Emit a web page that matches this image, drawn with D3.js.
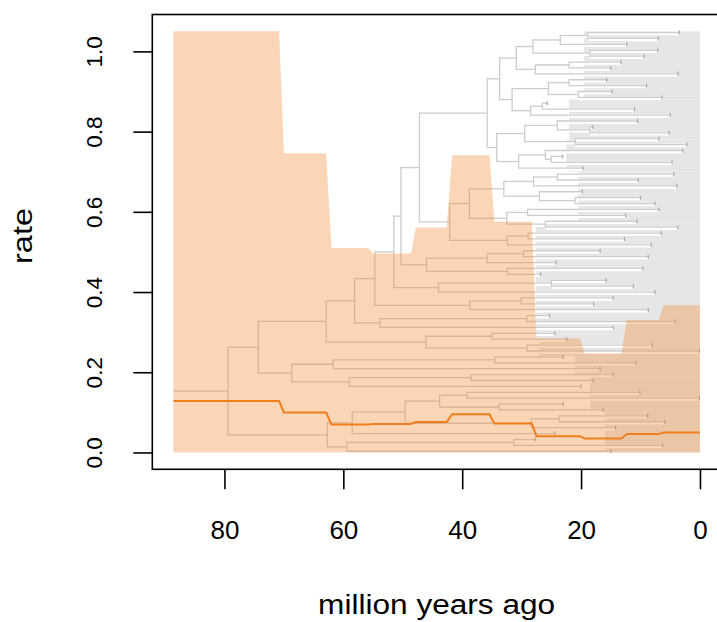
<!DOCTYPE html>
<html>
<head>
<meta charset="utf-8">
<script src="https://cdn.jsdelivr.net/npm/d3@7"></script>
<style>
body { margin: 0; background: #fff; }
text { font-family: "Liberation Sans", Arial, sans-serif; fill: #000; }
</style>
</head>
<body>
<script>
// Rate through time (million years ago, oldest first)
var intervalOld   = [88.6, 70.0, 62.0, 55.0, 47.8, 41.7, 34.6, 27.5, 19.4, 12.3, 6.1];
var intervalYoung = [70.8, 62.9, 55.8, 48.6, 42.6, 35.4, 28.3, 20.2, 13.2, 6.9, 0.0];
var rateUpper  = [1.05, 0.746, 0.51, 0.496, 0.561, 0.741, 0.575, 0.285, 0.247,
                  0.33, 0.367];
var rateLower  = [0, 0, 0, 0, 0, 0, 0, 0, 0, 0, 0];
var rateMedian = [0.128, 0.0997, 0.070, 0.071, 0.076, 0.095, 0.072, 0.0407,
                  0.035, 0.046, 0.05];

// grey band of lineages running to the present
var greyTop    = [1.05, 0.88, 0.78, 0.70, 0.57, 0.285, 0.24, 0.19, 0.10];
var greyBottom = [0.88, 0.78, 0.70, 0.57, 0.285, 0.24, 0.19, 0.10, 0.0];
var greyStart  = [19.5, 22.0, 22.5, 20.5, 27.6, 27.0, 21.0, 18.5, 16.0];

// tree: internal node = [age, upper child, lower child], tip = tip age
var P1a = [28.1, [23.5, [18.9, 3.5, 7.0], 12.3], [18.5, 7.1, 9.4]];
var P1b = [27.7, [22.0, 13.3, 15.0], 3.7];
var P2  = [31.6, [25.5, [22.0, 15.7, 9.0], [20.5, 14.8, 6.4]],
                 [28.5, [26.5, 25.7, 11.0], 5.0]];
var W   = [34.2, [29.5, [24.0, 10.5, [18.5, 18.0, 5.2]], [21.0, 6.9, 2.2]],
                 [30.5, [26.0, 2.9, [25.0, 23.1, 4.7]], 19.7]];
var Z1  = [38.8, [33.0, [28.0, [24.0, 4.4, 10.4], 3.9],
                        [27.0, 19.8, [21.0, 10.0, 7.6]]],
                 [32.5, [29.0, 6.9, 12.5], [26.0, 10.6, 3.7]]];
var Z2  = [32.4, [28.9, 6.5, 12.7], 8.2];
var Y   = [46.0, [35.8, [29.7, 16.8, 8.7], 24.2], [32.4, 9.6, 26.8]];
var X   = [44.0, [25.0, 15.8, 11.2], 7.6];
var C1  = [38.7, [30.1, 14.6, 17.9], 8.7];
var A1aL = [53.8, [29.1, 25.3, 4.2], 14.6];
var A1b = [46.1, [35.0, 24.4, 22.4], [29.1, 8.0, 0.1]];
var A2  = [68.7, [61.7, [34.5, 23.0, 10.8], 16.8],
                 [59.0, [38.5, 14.6, 18.0], 20.0]];
var B1  = [58.5, [49.6, [43.8, [39.2, 10.1, 0.1], [33.8, 23.0, 16.3]],
                        [28.4, [23.7, 8.8, 5.9], 14.2]], 24.4];
var B2  = [59.4, [31.3, 27.7, 6.3], 15.0];
var tree = [79.4,
    [74.3,
        [62.9,
            [58.1,
                [54.7,
                    [51.5,
                        [50.3, [47.2, [35.8, [33.7, [30.9, P1a, P1b], P2], W],
                                      [42.1, Z1, Z2]], Y],
                        X],
                    C1],
                A1aL],
            A1b],
        A2],
    [62.7, B1, B2]];
var rootAge = 88.6;
var tipTop = 1.047, tipBottom = 0.003;

var xTicks = [80, 60, 40, 20, 0];
var yTicks = [0, 0.2, 0.4, 0.6, 0.8, 1.0];

var W_ = 717, H_ = 622;
var svg = d3.select("body").append("svg")
    .attr("width", W_)
    .attr("height", H_);

var x = d3.scaleLinear().domain([92.14, -3.54]).range([152.3, 721]);
var y = d3.scaleLinear().domain([-0.042, 1.092]).range([469.3, 14.5]);

var plot = svg.append("g");

//grey band
plot.selectAll("rect.grey")
    .data(greyStart)
    .enter().append("rect")
    .attr("class", "grey")
    .attr("x", function(d) { return x(d); })
    .attr("y", function(d, i) { return y(greyTop[i]); })
    .attr("width", function(d) { return x(0) - x(d); })
    .attr("height", function(d, i) { return y(greyBottom[i]) - y(greyTop[i]); })
    .attr("fill", "#e6e6e6");

//Lay out the tree: tips evenly spaced, nodes at mean of children
function countTips(n) {
    return Array.isArray(n) ? countTips(n[1]) + countTips(n[2]) : 1;
}
var nTips = countTips(tree);
var tipStep = (tipTop - tipBottom) / (nTips - 1);
var tipIndex = 0;
var tips = [], hEdges = [], vEdges = [];
function layout(n, parentAge) {
    if (!Array.isArray(n)) {
        var vt = tipTop - tipStep * tipIndex++;
        hEdges.push({t0: parentAge, t1: n, v: vt});
        tips.push({t: n, v: vt});
        return vt;
    }
    var v1 = layout(n[1], n[0]);
    var v2 = layout(n[2], n[0]);
    var v = (v1 + v2) / 2;
    vEdges.push({t: n[0], v1: v1, v2: v2});
    hEdges.push({t0: parentAge, t1: n[0], v: v});
    return v;
}
layout(tree, rootAge);

var treeG = plot.append("g");
treeG.selectAll("line.halo")
    .data(hEdges)
    .enter().append("line")
    .attr("x1", function(d) { return x(d.t0); })
    .attr("x2", function(d) { return x(d.t1); })
    .attr("y1", function(d) { return y(d.v) + 1; })
    .attr("y2", function(d) { return y(d.v) + 1; })
    .attr("stroke", "#fff")
    .attr("stroke-width", 3.5);
treeG.selectAll("line.h")
    .data(hEdges)
    .enter().append("line")
    .attr("x1", function(d) { return x(d.t0); })
    .attr("x2", function(d) { return x(d.t1); })
    .attr("y1", function(d) { return y(d.v); })
    .attr("y2", function(d) { return y(d.v); })
    .attr("stroke", "#cdcdcd")
    .attr("stroke-width", 1.3);
treeG.selectAll("line.v")
    .data(vEdges)
    .enter().append("line")
    .attr("x1", function(d) { return x(d.t); })
    .attr("x2", function(d) { return x(d.t); })
    .attr("y1", function(d) { return y(d.v1) - 0.65; })
    .attr("y2", function(d) { return y(d.v2) + 0.65; })
    .attr("stroke", "#cdcdcd")
    .attr("stroke-width", 1.3);
treeG.selectAll("line.tip")
    .data(tips)
    .enter().append("line")
    .attr("x1", function(d) { return x(d.t); })
    .attr("x2", function(d) { return x(d.t); })
    .attr("y1", function(d) { return y(d.v) - 2; })
    .attr("y2", function(d) { return y(d.v) + 2; })
    .attr("stroke", "#a9a9a9")
    .attr("stroke-width", 1.2);

//Confidence band and median as step series
var steps = [];
intervalOld.forEach(function(t, i) {
    steps.push({t: t, hi: rateUpper[i], lo: rateLower[i], med: rateMedian[i]});
    steps.push({t: intervalYoung[i], hi: rateUpper[i], lo: rateLower[i],
        med: rateMedian[i]});
});

plot.append("path")
    .datum(steps)
    .attr("d", d3.area()
        .x(function(d) { return x(d.t); })
        .y0(function(d) { return y(d.lo); })
        .y1(function(d) { return y(d.hi); }))
    .attr("fill", "#f28a30")
    .attr("fill-opacity", 0.35);

plot.append("path")
    .datum(steps)
    .attr("d", d3.line()
        .x(function(d) { return x(d.t); })
        .y(function(d) { return y(d.med); }))
    .attr("fill", "none")
    .attr("stroke", "#f07e1c")
    .attr("stroke-width", 2);

//Axes
svg.append("rect")
    .attr("x", 152.3)
    .attr("y", 14.5)
    .attr("width", 568.7)
    .attr("height", 454.8)
    .attr("fill", "none")
    .attr("stroke", "#000")
    .attr("stroke-width", 1.6);

var xAxis = svg.append("g")
    .attr("transform", "translate(0,469.3)")
    .call(d3.axisBottom(x).tickValues(xTicks).tickSize(20)
        .tickPadding(50).tickFormat(d3.format("d")));
xAxis.select(".domain").remove();
xAxis.selectAll(".tick line").attr("stroke", "#000").attr("stroke-width", 1.6);
xAxis.selectAll(".tick text")
    .attr("y", 70)
    .attr("dy", 0)
    .style("font-size", "26px");

var yAxis = svg.append("g")
    .attr("transform", "translate(152.3,0)")
    .call(d3.axisLeft(y).tickValues(yTicks).tickSize(19)
        .tickFormat(d3.format(".1f")));
yAxis.select(".domain").remove();
yAxis.selectAll(".tick line").attr("stroke", "#000").attr("stroke-width", 1.6);
yAxis.selectAll(".tick text")
    .attr("x", 0)
    .attr("dy", 0)
    .attr("transform", "translate(-50.6,0) rotate(-90)")
    .attr("text-anchor", "middle")
    .style("font-size", "22.5px");

svg.append("text")
    .attr("x", 436.6)
    .attr("y", 614)
    .attr("text-anchor", "middle")
    .attr("textLength", 237)
    .attr("lengthAdjust", "spacingAndGlyphs")
    .style("font-size", "27px")
    .text("million years ago");

svg.append("text")
    .attr("transform", "translate(31.5,236) rotate(-90)")
    .attr("text-anchor", "middle")
    .attr("textLength", 56)
    .attr("lengthAdjust", "spacingAndGlyphs")
    .style("font-size", "27px")
    .text("rate");
</script>
</body>
</html>
